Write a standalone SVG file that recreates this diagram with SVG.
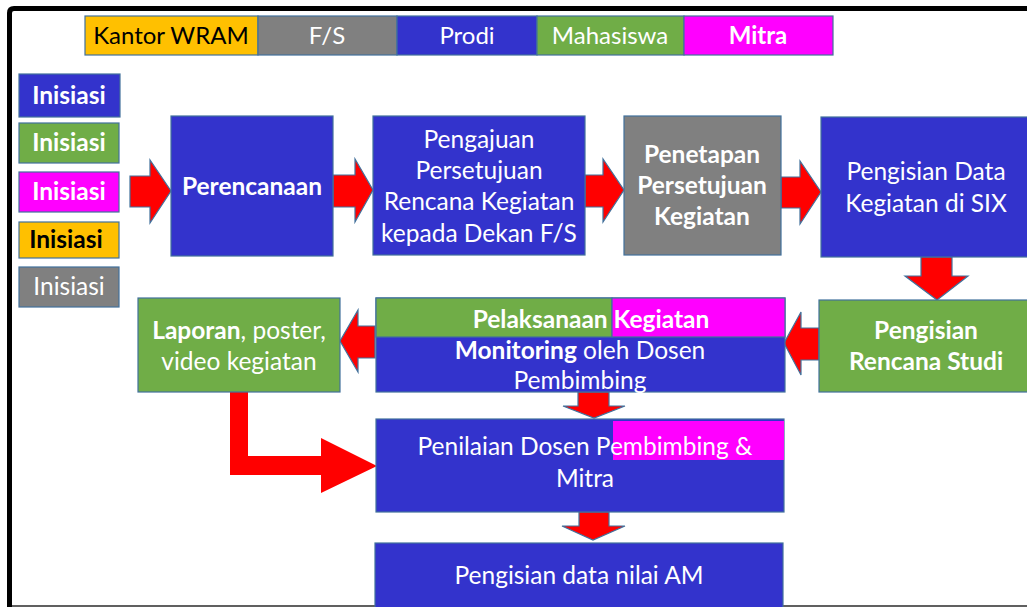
<svg xmlns="http://www.w3.org/2000/svg" width="1027" height="607" viewBox="0 0 1027 607">
<style>
.box{stroke:#41719C;stroke-width:1.2}
.blue{fill:#3333CC}.green{fill:#70AD47}.gray{fill:#808080}.orange{fill:#FFC000}.mag{fill:#FF00FF}
.arr{fill:#FF0000;stroke:#41719C;stroke-width:1.2;stroke-linejoin:miter}
text{font-family:Lato,"Open Sans","Liberation Sans",sans-serif;font-size:24.5px;fill:#FFFFFF;text-anchor:middle}
#legend text{font-size:24px}
.b{font-weight:bold}
.k{fill:#000000}
</style>
<rect x="0" y="0" width="1027" height="607" fill="#FFFFFF"/>
<path d="M9.5 607 L9.5 13 Q9.5 8.5 14 8.5 L1027 8.5" fill="none" stroke="#000000" stroke-width="5"/>
<rect x="12" y="605" width="1015" height="2" fill="#606060"/>

<g id="legend">
<rect class="box orange" x="85" y="16" width="173" height="39"/>
<text class="k" x="171" y="44">Kantor WRAM</text>
<rect class="box gray" x="258" y="16" width="139" height="39"/>
<text x="327" y="44">F/S</text>
<rect class="box blue" x="397" y="16" width="140" height="39"/>
<text x="467" y="44">Prodi</text>
<rect class="box green" x="537" y="16" width="147" height="39"/>
<text x="610" y="44">Mahasiswa</text>
<rect class="box mag" x="684" y="16" width="149" height="39"/>
<text class="b" x="758" y="44">Mitra</text>
</g>

<g id="inisiasi-legend">
<rect class="box blue" x="19" y="74" width="101" height="43"/>
<text class="b" x="69" y="104">Inisiasi</text>
<rect class="box green" x="19" y="123" width="100" height="40"/>
<text class="b" x="69" y="151">Inisiasi</text>
<rect class="box mag" x="19" y="172" width="100" height="40"/>
<text class="b" x="69" y="200">Inisiasi</text>
<rect class="box orange" x="19" y="222" width="100" height="36"/>
<text class="b k" x="66" y="248">Inisiasi</text>
<rect class="box gray" x="19" y="267" width="100" height="40"/>
<text x="69" y="295">Inisiasi</text>
</g>

<g id="connectors">
<polygon class="arr" points="130,176 150,176 150,160 171,191 150,223 150,207 130,207"/>
<polygon class="arr" points="333,175 355,175 355,159 373,190 355,222 355,207 333,207"/>
<polygon class="arr" points="585,175 603,175 603,159 624,190 603,222 603,207 585,207"/>
<polygon class="arr" points="781,177 800,177 800,161 821,192 800,224 800,208 781,208"/>
<polygon class="arr" points="921,257 952,257 952,276 968,276 937,300 905,276 921,276"/>
<polygon class="arr" points="819,328 801,328 801,312 784,343 801,375 801,360 819,360"/>
<polygon class="arr" points="375,326 358,326 358,310 340,341 358,372 358,358 375,358"/>
<polygon class="arr" points="578,392 609,392 609,406 625,406 594,418 563,406 578,406"/>
<polygon class="arr" points="579,512 609,512 609,526 625,526 593,540 562,526 579,526"/>
<polygon fill="#FF0000" points="230,392 248,392 248,456 321,456 321,438 377,466 321,493 321,475 230,475"/>
</g>

<g id="perencanaan">
<rect class="box blue" x="171" y="116" width="162" height="140"/>
<text class="b" x="252" y="195">Perencanaan</text>
</g>

<g id="pengajuan">
<rect class="box blue" x="373" y="116" width="212" height="139"/>
<text x="479" y="148">Pengajuan</text>
<text x="479" y="179">Persetujuan</text>
<text x="479" y="210">Rencana Kegiatan</text>
<text x="479" y="242">kepada Dekan F/S</text>
</g>

<g id="penetapan">
<rect class="box gray" x="624" y="116" width="157" height="139"/>
<text class="b" x="702" y="163">Penetapan</text>
<text class="b" x="702" y="194">Persetujuan</text>
<text class="b" x="702" y="225">Kegiatan</text>
</g>

<g id="pengisian-data">
<rect class="box blue" x="821" y="117" width="210" height="140"/>
<text x="926" y="180">Pengisian Data</text>
<text x="926" y="212">Kegiatan di SIX</text>
</g>

<g id="pengisian-rencana">
<rect class="box green" x="819" y="300" width="212" height="92"/>
<text class="b" x="926" y="339">Pengisian</text>
<text class="b" x="926" y="370">Rencana Studi</text>
</g>

<g id="pelaksanaan">
<rect class="box blue" x="376" y="298" width="409" height="94"/>
<rect class="box green" x="376" y="298" width="236" height="39"/>
<rect class="box mag" x="612" y="298" width="173" height="39"/>
<text class="b" x="591" y="328">Pelaksanaan Kegiatan</text>
<text x="580" y="359"><tspan class="b">Monitoring</tspan> oleh Dosen</text>
<text x="580" y="389">Pembimbing</text>
</g>

<g id="laporan">
<rect class="box green" x="138" y="298" width="202" height="94"/>
<text x="239" y="339"><tspan class="b">Laporan</tspan>, poster,</text>
<text x="239" y="370">video kegiatan</text>
</g>

<g id="penilaian">
<rect class="box blue" x="376" y="419" width="408" height="93"/>
<rect fill="#FF00FF" x="613" y="421" width="171" height="39"/>
<text x="585" y="455">Penilaian Dosen Pembimbing &amp;</text>
<text x="585" y="487">Mitra</text>
</g>

<g id="nilai-am">
<rect class="box blue" x="375" y="543" width="408" height="70"/>
<text x="579" y="584">Pengisian data nilai AM</text>
</g>
</svg>
